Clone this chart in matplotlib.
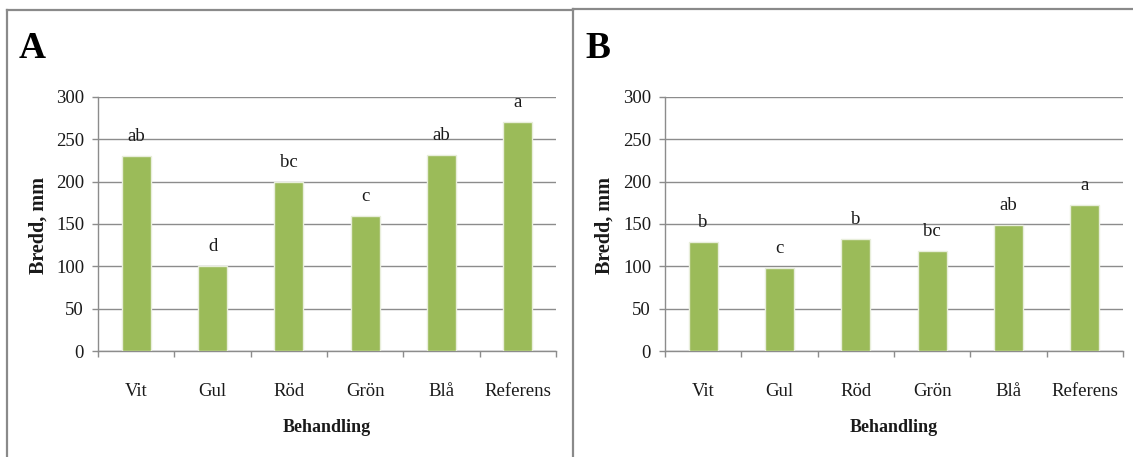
import matplotlib
matplotlib.use("Agg")
import matplotlib.pyplot as plt
from matplotlib.lines import Line2D

categories = ["Vit", "Gul", "Röd", "Grön", "Blå", "Referens"]
bredd_a = [230, 100, 200, 160, 232, 270]
letters_a = ["ab", "d", "bc", "c", "ab", "a"]
bredd_b = [129, 98, 132, 118, 149, 173]
letters_b = ["b", "c", "b", "bc", "ab", "a"]
y_ticks = [0, 50, 100, 150, 200, 250, 300]

W, H = 1133, 457
plt.rcParams["font.family"] = ["Liberation Serif", "DejaVu Serif"]

fig = plt.figure(figsize=(W / 100, H / 100), dpi=100)
fig.patch.set_facecolor("white")

BAR = "#9bbb59"
GRID = "#8c8c8c"
BORDER = "#8a8a8a"
TXT = 13.5


def fx(px):
    return px / W


def fy(py):
    return 1 - py / H


def panel(left_px, right_px, values, letters, tag, tag_x, ylabel_x):
    ax = fig.add_axes([fx(left_px), fy(351), fx(right_px - left_px), (351 - 97) / H])
    x = list(range(len(categories)))
    ax.bar(x, values, width=0.38, color=BAR, edgecolor="#e8eedb", linewidth=1.0, zorder=3)
    for xi, v, s in zip(x, values, letters):
        ax.annotate(s, (xi, v), xytext=(0, 14), textcoords="offset points",
                    ha="center", va="center", fontsize=TXT, color="#1a1a1a", zorder=4)
    ax.set_xlim(-0.5, len(categories) - 0.5)
    ax.set_ylim(0, 300)
    ax.set_yticks(y_ticks)
    ax.set_xticks(x)
    ax.set_xticklabels(categories)
    ax.set_xticks([i - 0.5 for i in range(len(categories) + 1)], minor=True)
    ax.tick_params(axis="x", which="major", length=0, pad=23, labelsize=TXT, labelcolor="#1a1a1a")
    ax.tick_params(axis="x", which="minor", length=4, width=1, color=GRID, direction="out")
    ax.tick_params(axis="y", length=4, width=1, color=GRID, pad=6, labelsize=TXT, labelcolor="#1a1a1a")
    ax.grid(axis="y", color=GRID, linewidth=1.0, zorder=0)
    ax.set_axisbelow(True)
    for side in ("top", "right"):
        ax.spines[side].set_visible(False)
    for side in ("left", "bottom"):
        ax.spines[side].set_color(GRID)
        ax.spines[side].set_linewidth(1.0)
    fig.text(fx((left_px + right_px) / 2), fy(427), "Behandling", ha="center", va="center",
             fontsize=13, fontweight="bold", color="#1a1a1a")
    fig.text(fx(ylabel_x), fy(225), "Bredd, mm", rotation=90, ha="center", va="center",
             fontsize=14.5, fontweight="bold", color="#1a1a1a")
    fig.text(fx(tag_x), fy(48), tag, ha="left", va="center", fontsize=27,
             fontweight="bold", color="black")
    return ax


panel(98, 556, bredd_a, letters_a, "A", 19, 39)
panel(665, 1123, bredd_b, letters_b, "B", 585, 605)

# frames around each panel
lw = 1.6
fig.add_artist(Line2D([fx(7), fx(7)], [fy(10), 0], transform=fig.transFigure, color=BORDER, lw=lw))
fig.add_artist(Line2D([fx(7), fx(573)], [fy(10), fy(10)], transform=fig.transFigure, color=BORDER, lw=lw))
fig.add_artist(Line2D([fx(573), fx(573)], [fy(9), 0], transform=fig.transFigure, color=BORDER, lw=lw))
fig.add_artist(Line2D([fx(573), 1], [fy(9), fy(9)], transform=fig.transFigure, color=BORDER, lw=lw))

fig.savefig("out.png", dpi=100, facecolor="white")
